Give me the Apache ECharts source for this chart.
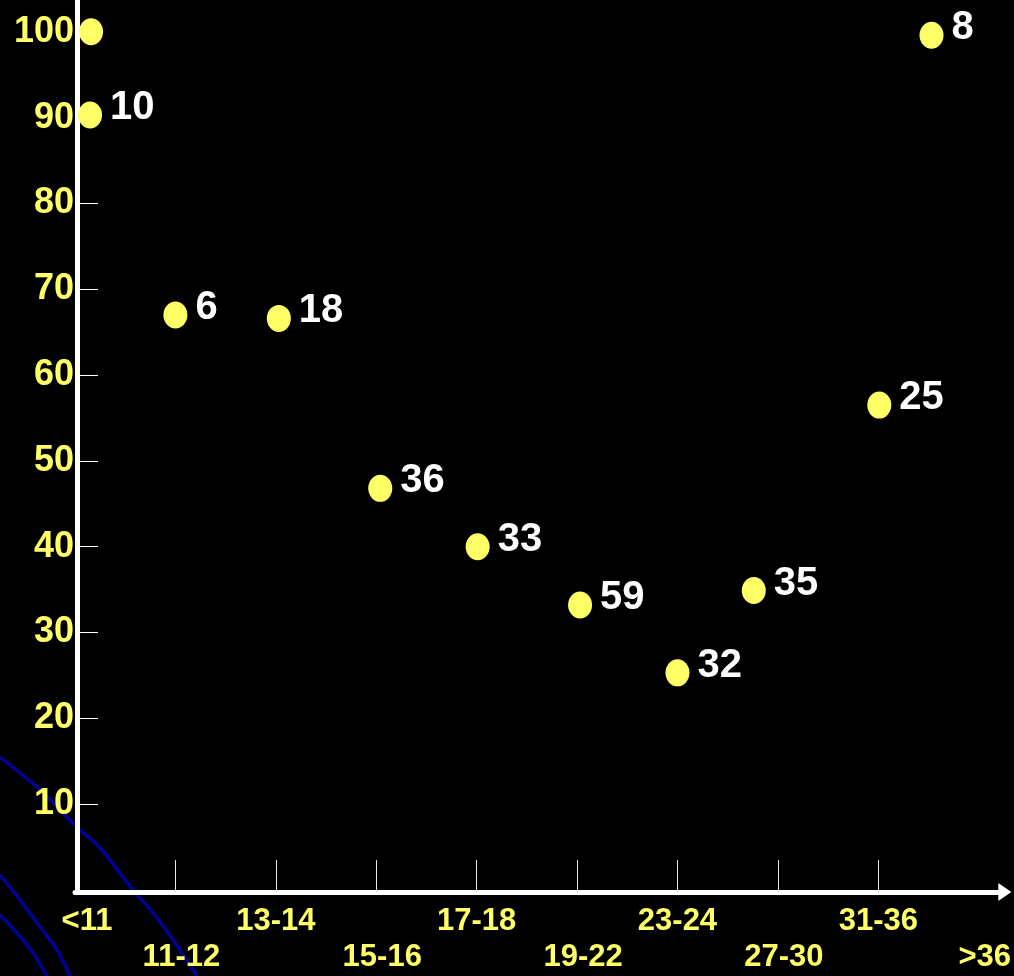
<!DOCTYPE html>
<html><head><meta charset="utf-8">
<script src="https://cdn.jsdelivr.net/npm/echarts@6/dist/echarts.min.js"></script>
<style>html,body{margin:0;padding:0;background:#000;} #c{width:1014px;height:976px;}</style>
</head><body><div id="c"></div>
<script>
// Category labels along the x axis (one per integer position)
const categories = ['<11','11-12','13-14','15-16','17-18','19-22','23-24','27-30','31-36','>36'];
const xTickValues = [1,2,3,4,5,6,7,8];
const xLabelValues = [0,1,2,3,4,5,6,7,8,9];
const yTickValues = [10,20,30,40,50,60,70,80,90,100];
// Points: x = position along category axis, y = percentage, label = count
const pointX = [0.16, 0.15, 1.0, 2.03, 3.04, 4.01, 5.03, 6.0, 6.76, 8.01, 8.53];
const pointY = [100, 90.3, 67.0, 66.6, 46.8, 40.0, 33.2, 25.3, 34.9, 56.5, 99.6];
const pointLabels = ['', '10', '6', '18', '36', '33', '59', '32', '35', '25', '8'];

const YELLOW = '#FFFF66';
const FONT = 'Liberation Sans, Arial, sans-serif';
const data = pointX.map((x, i) => ({ value: [x, pointY[i]], name: pointLabels[i] }));

const curveStyle = { stroke: '#000094', lineWidth: 3.5, fill: null };
const chart = echarts.init(document.getElementById('c'), null, { renderer: 'canvas' });
chart.setOption({
  backgroundColor: '#000000',
  animation: false,
  grid: { left: 75, right: 7, top: 0, bottom: 86, containLabel: false },
  graphic: [
    { type: 'polyline', z: -10, silent: true,
      shape: { points: [[0,757],[43,792],[55,805],[80,830],[100,848],[133,890],[153,913],[173,940],[197,976]], smooth: 0.3 },
      style: curveStyle },
    { type: 'polyline', z: -10, silent: true,
      shape: { points: [[0,875],[20,900],[40,927],[57,950],[70,976]], smooth: 0.3 },
      style: curveStyle },
    { type: 'polyline', z: -10, silent: true,
      shape: { points: [[0,915],[17,933],[33,953],[47,976]], smooth: 0.3 },
      style: curveStyle }
  ],
  xAxis: {
    type: 'value', min: 0, max: 9.26, offset: 2,
    splitLine: { show: false },
    axisLine: { show: true, onZero: false, symbol: ['none', 'triangle'], symbolSize: [18, 13],
      lineStyle: { color: '#ffffff', width: 5 } },
    axisTick: { show: true, inside: true, length: 32, customValues: xTickValues,
      lineStyle: { color: '#e8e8e8', width: 1 } },
    axisLabel: {
      customValues: xLabelValues, margin: 11,
      color: YELLOW, fontFamily: FONT, fontWeight: 'bold', fontSize: 31, lineHeight: 36,
      formatter: function (v) {
        const i = Math.round(v);
        const t = categories[i];
        if (i === 0) return '{f|' + t + '}';
        return (i % 2) ? '\n{lo|' + t + '}' : t;
      },
      rich: {
        lo: { color: YELLOW, fontFamily: FONT, fontWeight: 'bold', fontSize: 31, lineHeight: 36, padding: [0, 0, 0, 12] },
        f: { color: YELLOW, fontFamily: FONT, fontWeight: 'bold', fontSize: 31, lineHeight: 36, padding: [0, 0, 0, 24] }
      }
    }
  },
  yAxis: {
    type: 'value', min: 0, max: 103.7, offset: -2,
    splitLine: { show: false },
    axisLine: { show: true, onZero: false, lineStyle: { color: '#ffffff', width: 5 } },
    axisTick: { show: true, inside: true, length: 21, customValues: yTickValues,
      lineStyle: { color: '#ffffff', width: 1 } },
    axisLabel: {
      customValues: yTickValues, margin: 3,
      color: YELLOW, fontFamily: FONT, fontWeight: 'bold', fontSize: 36,
      textShadowColor: '#000000', textShadowOffsetX: 3, textShadowOffsetY: 3, textShadowBlur: 0
    }
  },
  series: [{
    type: 'scatter', z: 5,
    symbol: 'circle', symbolSize: [24, 27],
    itemStyle: { color: YELLOW, opacity: 1 },
    label: {
      show: true, position: 'right', distance: 8, offset: [0, -7],
      formatter: p => p.name,
      color: '#ffffff', fontFamily: FONT, fontWeight: 'bold', fontSize: 40
    },
    data: data
  }]
});
</script>
</body></html>
